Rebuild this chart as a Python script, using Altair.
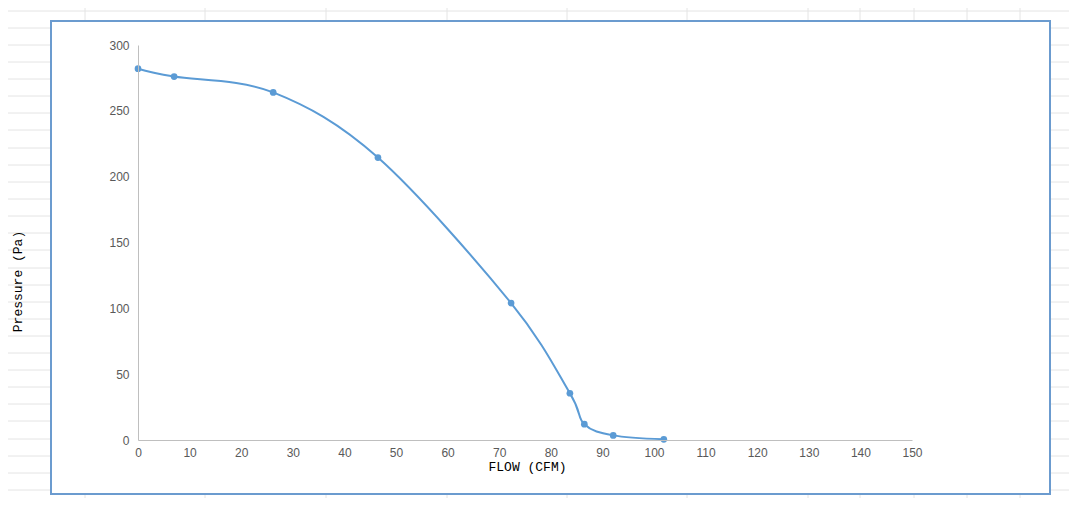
import altair as alt
import pandas as pd

# ---- data ----
flow = [0, 7, 26.2, 46.5, 72.3, 83.7, 86.5, 92.1, 101.9]
pressure = [282, 276, 264, 214.5, 104, 35.5, 12, 3.5, 0.5]

x_ticks = [0, 10, 20, 30, 40, 50, 60, 70, 80, 90, 100, 110, 120, 130, 140, 150]
y_ticks = [0, 50, 100, 150, 200, 250, 300]

x_title = "FLOW (CFM)"
y_title = "Pressure (Pa)"

# ---- layout (pixels) ----
W, H = 1061, 490
OFF = 8  # page margin
sheet_cols = [85, 205, 326, 447, 567, 687, 808, 860, 914, 967, 1020]
sheet_rows = [11, 28, 45, 62, 79, 96, 113, 130, 148, 165, 182, 199, 216, 233,
              250, 268, 285, 302, 319, 336, 353, 370, 387, 404, 421, 439, 456,
              473, 490]
GRID = "#e4e4e4"
BLUE = "#5b9bd5"

bg_v = alt.Chart(pd.DataFrame({"gx": [c - OFF for c in sheet_cols]})).mark_rule(
    color=GRID, strokeWidth=1
).encode(x=alt.X("gx:Q", scale=None), y=alt.value(0), y2=alt.value(H))

bg_h = alt.Chart(pd.DataFrame({"gy": [r - OFF for r in sheet_rows]})).mark_rule(
    color=GRID, strokeWidth=1
).encode(y=alt.Y("gy:Q", scale=None), x=alt.value(0), x2=alt.value(W))

box = alt.Chart(pd.DataFrame({"a": [0]})).mark_rect(
    fill="white", stroke="#6b9bcf", strokeWidth=2
).encode(
    x=alt.value(51 - OFF), x2=alt.value(1050 - OFF),
    y=alt.value(21 - OFF), y2=alt.value(494 - OFF)
)

df = pd.DataFrame({"flow": flow, "pressure": pressure})

X0, X1 = 138 - OFF, 912 - OFF
Y0, Y1 = 440 - OFF, 45 - OFF

xscale = alt.Scale(domain=[0, 150], range=[X0, X1], nice=False, zero=False)
yscale = alt.Scale(domain=[0, 300], range=[Y0, Y1], nice=False, zero=False)

xaxis = alt.Axis(
    orient="bottom", values=x_ticks, grid=False, ticks=False,
    domainColor="#bfbfbf", domainWidth=1,
    labelColor="#595959", labelFont="Liberation Sans", labelFontSize=12,
    labelPadding=7, labelFlush=False, labelOverlap=False,
    offset=Y0 - H,
    title=x_title, titleFont="Liberation Mono", titleFontSize=13,
    titleFontWeight="normal", titleColor="#000000",
    titleX=527 - OFF, titleY=26, titleBaseline="middle", titleAlign="center",
    zindex=1,
)
yaxis = alt.Axis(
    orient="left", values=y_ticks, grid=False, ticks=False,
    domainColor="#bfbfbf", domainWidth=1,
    labelColor="#595959", labelFont="Liberation Sans", labelFontSize=12,
    labelPadding=9, labelOverlap=False,
    offset=-X0,
    title=y_title, titleFont="Liberation Mono", titleFontSize=13,
    titleFontWeight="normal", titleColor="#000000",
    titleX=17 - 138, titleY=281 - OFF, titleBaseline="middle", titleAlign="center",
    zindex=1,
)

line = alt.Chart(df).mark_line(
    interpolate="cardinal", color=BLUE, strokeWidth=2
).encode(
    x=alt.X("flow:Q", scale=xscale, axis=xaxis),
    y=alt.Y("pressure:Q", scale=yscale, axis=yaxis),
)
pts = alt.Chart(df).mark_circle(size=45, color=BLUE, opacity=1).encode(
    x=alt.X("flow:Q", scale=xscale),
    y=alt.Y("pressure:Q", scale=yscale),
)

data_layer = alt.layer(line, pts)

chart = alt.layer(bg_v, bg_h, box, data_layer).resolve_scale(
    x="independent", y="independent"
).properties(
    width=W, height=H, padding=0,
    autosize=alt.AutoSizeParams(type="none"),
    background="white",
).configure_view(strokeWidth=0)

chart.save("out.html", embed_options={"renderer": "svg", "actions": False})
